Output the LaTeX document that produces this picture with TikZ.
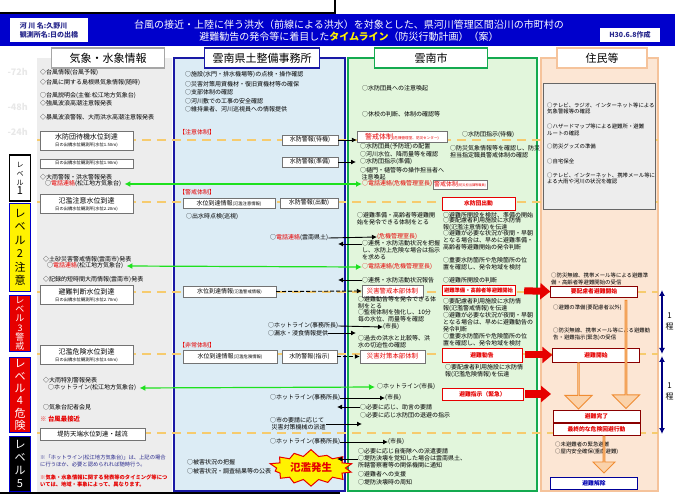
\documentclass[tikz,border=0pt]{standalone}
\usepackage{fontspec}
\setmainfont{Noto Sans CJK JP}
\usetikzlibrary{arrows.meta,shapes.arrows,shapes.symbols}

\definecolor{bannerblue}{RGB}{0,0,204}
\definecolor{kishogray}{RGB}{237,237,237}
\definecolor{dobokufill}{RGB}{220,236,245}
\definecolor{dobokuline}{RGB}{25,25,165}
\definecolor{shifill}{RGB}{226,246,220}
\definecolor{shiline}{RGB}{20,170,80}
\definecolor{juminfill}{RGB}{252,230,212}
\definecolor{juminline}{RGB}{245,195,155}
\definecolor{waterdash}{RGB}{246,203,110}
\definecolor{hotgreen}{RGB}{30,225,30}
\definecolor{alertred}{RGB}{230,0,0}
\definecolor{evacline}{RGB}{240,140,50}
\definecolor{evacfill}{RGB}{250,210,170}
\definecolor{notenavy}{RGB}{40,40,140}
\definecolor{faint}{RGB}{232,232,232}

\newcommand{\fsz}[1]{\fontsize{#1}{#1}\selectfont}
\newcommand{\redtel}{\textcolor{alertred}{電話連絡}}

\tikzset{
  note/.style={anchor=west, inner sep=0pt, align=left, font=\fontsize{6}{6.9}\selectfont},
  residentnote/.style={note, font=\fontsize{5.4}{6.5}\selectfont},
  rednote/.style={note, text=alertred},
  infobox/.style={draw=black!55, fill=white, inner sep=0pt, align=center, font=\fontsize{6}{7}\selectfont},
  gaugebox/.style={infobox, minimum width=93pt, minimum height=19pt},
  hqbox/.style={infobox, text=alertred, font=\fontsize{6.4}{7}\selectfont},
  orderbox/.style={infobox, draw=alertred, text=alertred, font=\fontsize{5.8}{7}\selectfont\bfseries},
  actionbox/.style={infobox, draw=alertred!60!black, text=alertred, minimum width=87pt, font=\fontsize{5.8}{7}\selectfont\bfseries},
  header/.style={fill=white, line width=1.5pt, minimum height=20pt, inner sep=0pt, font=\fontsize{11}{11}\selectfont},
  levelbox/.style={draw=blue!80!black, line width=1.8pt, minimum width=21pt, inner sep=0pt, align=center},
  waterline/.style={draw=waterdash, line width=1.8pt, dash pattern=on 9pt off 6pt},
  relay/.style={line width=0.9pt, -{Latex[length=5pt,width=5pt]}},
  relaydash/.style={relay, dash pattern=on 4pt off 2pt},
  hotline/.style={draw=hotgreen, line width=1.2pt, {Latex[length=6pt,width=6pt]}-{Latex[length=6pt,width=6pt]}},
  bigred/.style={draw=alertred, line width=7pt, -{Triangle[length=10pt,width=16pt]}},
  evacarrow/.style={single arrow, draw=evacline, fill=evacfill, line width=0.9pt, inner sep=0pt, rotate=-90, anchor=tail},
  spanarrow/.style={draw=blue!50!black, line width=1.3pt, {Latex[length=6pt,width=6pt]}-{Latex[length=6pt,width=6pt]}}
}

\begin{document}
\begin{tikzpicture}[x=1pt, y=-1pt]
\useasboundingbox (0,0) rectangle (675,494);
\clip (0,0) rectangle (675,494);

% frame edges left over from the page
\draw[line width=1.6pt] (0,13) -- (335,13) -- (335,0);
\draw[line width=2pt] (0,493) -- (340,493);

% title banner
\fill[bannerblue] (0,14) rectangle (675,46);
\node[fill=white, inner sep=0pt, minimum width=78pt, minimum height=24pt, align=left, text=notenavy, font=\fontsize{7}{9}\selectfont\bfseries] (gauge) at (49,30) {河 川 名:久野川\\観測所名:日の出橋};
\node[text=white, align=center, font=\fontsize{10}{11.5}\selectfont] (title) at (349,30.5) {台風の接近・上陸に伴う洪水（前線による洪水）を対象とした、県河川管理区間沿川の市町村の\\避難勧告の発令等に着目した{\color{yellow}\bfseries タイムライン}（防災行動計画）（案）};
\node[fill=white, minimum width=60pt, minimum height=14pt, inner sep=0pt, text=notenavy, font=\fontsize{7}{7}\selectfont\bfseries] (made) at (630,35) {H30.6.8作成};

% columns
\fill[kishogray] (37,58) rectangle (172,492);
\filldraw[fill=dobokufill, draw=dobokuline, line width=1.3pt] (174,58) rectangle (345,491);
\filldraw[fill=shifill, draw=shiline, line width=1.3pt] (348,58) rectangle (537,491);
\filldraw[fill=juminfill, draw=juminline, line width=1.3pt] (541,58) rectangle (658,491);

% water level lines
\foreach \wy in {140,202,292,354,433}
  \draw[waterline] (37,\wy) -- (658,\wy);

% headers
\node[header, draw=black!35, minimum width=113pt] (kisho) at (108,58) {気象・水象情報};
\node[header, draw=dobokuline, minimum width=115pt] (doboku) at (262,58) {雲南県土整備事務所};
\node[header, draw=shiline, minimum width=113pt] (shi) at (431,58) {雲南市};
\node[header, draw=juminline, minimum width=90pt] (jumin) at (602,58) {住民等};

% time guides
\node[anchor=west, text=faint, font=\fontsize{9}{9}\selectfont\bfseries] (h72) at (4,72) {-72h};
\node[anchor=west, text=faint, font=\fontsize{9}{9}\selectfont\bfseries] (h48) at (4,107) {-48h};
\node[anchor=west, text=faint, font=\fontsize{9}{9}\selectfont\bfseries] (h24) at (4,132) {-24h};

% levels
\node[levelbox, draw=black, fill=white, minimum height=46pt, font=\fontsize{7}{9}\selectfont] (lv1) at (20,178) {レ\\ベ\\ル\\{\fsz{11}1}};
\node[levelbox, fill=yellow, minimum height=88pt, font=\fontsize{11}{13.5}\selectfont] (lv2) at (20,247.5) {レ\\ベ\\ル\\2\\注\\意};
\node[levelbox, fill=alertred, text=white, minimum height=56pt, font=\fontsize{9}{9.3}\selectfont] (lv3) at (20,323.5) {レ\\ベ\\ル\\3\\警\\戒};
\node[levelbox, fill=alertred, text=white, minimum height=75pt, font=\fontsize{11}{12.3}\selectfont] (lv4) at (20,395) {レ\\ベ\\ル\\4\\危\\険};
\node[levelbox, fill=black, text=white, minimum height=55pt, font=\fontsize{11}{13}\selectfont] (lv5) at (20,464) {レ\\ベ\\ル\\5};

% weather and water information
\node[note] (typhoon) at (40,72) {◇台風情報(台風予報)};
\node[note] (prefinfo) at (40,82) {◇台風に関する島根県気象情報(随時)};
\node[note] (briefing) at (40,96) {○台風説明会(主催:松江地方気象台)};
\node[note] (galeadv) at (40,103) {◇強風波浪高潮注意報発表};
\node[note] (stormwarn) at (40,117) {◇暴風波浪警報、大雨洪水高潮注意報発表};
\node[gaugebox] (standby) at (86.5,140.5) {{\fsz{7}水防団待機水位到達}\\{\fsz{4.3}日の出橋水位観測所(水位1.50m)}};
\node[infobox, minimum width=93pt, minimum height=9pt] (gauge190) at (86.5,163.5) {\fsz{4.3}日の出橋水位観測所(水位1.90m)};
\node[note] (heavyrain) at (40,177) {◇大雨警報・洪水警報発表};
\node[note] (ktel1) at (45,184) {○\redtel(松江地方気象台)};
\node[gaugebox] (caution) at (86.5,204) {{\fsz{7}氾濫注意水位到達}\\{\fsz{4.3}日の出橋水位観測所(水位2.20m)}};
\node[note] (landslide) at (43,259) {◇土砂災害警戒情報(雲南市)発表};
\node[note] (ktel2) at (47,266) {○\redtel(松江地方気象台)};
\node[note] (record) at (43,279) {◇記録的短時間大雨情報(雲南市)発表};
\node[gaugebox] (judge) at (86.5,295) {{\fsz{7}避難判断水位到達}\\{\fsz{4.3}日の出橋水位観測所(水位2.70m)}};
\node[gaugebox] (danger) at (86.5,355) {{\fsz{7}氾濫危険水位到達}\\{\fsz{4.3}日の出橋水位観測所(水位3.60m)}};
\node[note] (special) at (43,380) {◇大雨特別警報発表};
\node[note] (khot) at (48,388) {○ホットライン(松江地方気象台)};
\node[note] (press) at (43,407) {○気象台記者会見};
\node[rednote, font=\fontsize{6.4}{7}\selectfont\bfseries] (closest) at (40,419) {※ 台風最接近};
\node[infobox, minimum width=105pt, minimum height=12pt, font=\fontsize{6.4}{7}\selectfont] (overtop) at (92.5,434) {堤防天端水位到達・越流};
\node[note, text=notenavy, font=\fontsize{5.3}{7}\selectfont] (hotnote) at (40,460.5) {※「ホットライン(松江地方気象台)」は、上記の場合\\に行うほか、必要と認められれば随時行う。};
\node[rednote, font=\fontsize{5.3}{7}\selectfont\bfseries] (timenote) at (40,480.5) {※気象・水象情報に関する発表等のタイミング等につ\\いては、地域・事象によって、異なります。};

% prefectural office
\node[note] (facility) at (185,75) {○施設(水門・排水機場等)の点検・操作確認};
\node[note] (material) at (185,84) {○災害対策用資機材・復旧資機材等の確保};
\node[note] (branch) at (185,92) {○支部体制の確認};
\node[note] (works) at (185,101) {○河川敷での工事の安全確認};
\node[note] (patrol) at (185,109) {○維持業者、河川巡視員への情報提供};
\node[rednote] (attn) at (179,132) {【注意体制】};
\node[infobox, minimum width=56pt, minimum height=10pt] (flwait) at (310,140) {水防警報(待機)};
\node[infobox, minimum width=56pt, minimum height=10pt] (flprep) at (310,162) {水防警報(準備)};
\node[rednote] (alert) at (179,192) {【警戒体制】};
\node[infobox, minimum width=92pt, minimum height=10pt] (rcaution) at (229,203) {水位到達情報{\fsz{4.3}(氾濫注意情報)}};
\node[infobox, minimum width=58pt, minimum height=10pt] (flgo) at (309,203) {水防警報(出動)};
\node[note] (inspect) at (186,217) {○出水時点検(巡視)};
\node[note] (dtel) at (270,238) {○\redtel(雲南県土)};
\node[infobox, minimum width=93pt, minimum height=11pt] (rwarning) at (229.5,291.5) {水位到達情報{\fsz{4.3}(氾濫警戒情報)}};
\node[note] (dhot1) at (268,326) {○ホットライン(事務所長)};
\node[note] (leak) at (268,333) {○漏水・浸食情報提供};
\node[rednote] (emerg) at (179,345) {【非常体制】};
\node[infobox, minimum width=94pt, minimum height=13pt] (rdanger) at (230,356.5) {水位到達情報{\fsz{4.3}(氾濫危険情報)}};
\node[infobox, minimum width=55pt, minimum height=13pt] (florder) at (309.5,356.5) {水防警報(指示)};
\node[note] (dhot2) at (270,398) {○ホットライン(事務所長)};
\node[note] (machine) at (270,424) {○市の要請に応じて\\\ 災害対策機械の派遣};
\node[note] (dhot3) at (270,442) {○ホットライン(事務所長)};
\node[note] (damage) at (187,462) {○被害状況の把握};
\node[note] (publish) at (187,471) {○被害状況・調査結果等の公表};
\node[starburst, starburst points=14, starburst point height=8pt, random starburst=37, fill=yellow, draw=alertred, line width=1pt, minimum width=72pt, minimum height=34pt, text=alertred, font=\fontsize{10.5}{11}\selectfont\bfseries] (flood) at (311,468) {氾濫発生};

% city, left side
\node[note] (members) at (362,88) {○水防団員への注意喚起};
\node[note] (school) at (362,114) {○休校の判断、体制の確認等};
\node[infobox, minimum width=90pt, minimum height=11pt, text=alertred, font=\fontsize{7}{7}\selectfont] (cwarn1) at (402,136.5) {警戒体制{\fsz{3.6}(危機管理室、防災センター)}};
\node[note] (teamwait) at (462,135) {○水防団指示(待機)};
\node[note] (prevent) at (360,147) {○水防団員(予防班)の配置};
\node[note] (check) at (360,154) {○河川水位、降雨量等を確認};
\node[note] (teamprep) at (360,162) {○水防団指示(準備)};
\node[note] (sluice) at (360,173.5) {○樋門・樋管等の操作担当者へ\\\ 注意喚起};
\node[rednote] (stel1) at (362,184) {○電話連絡(危機管理室長)};
\node[infobox, minimum width=54pt, minimum height=9pt, text=alertred, font=\fontsize{6}{7}\selectfont] (cwarn2) at (460,184.5) {警戒体制{\fsz{3.2}(防災担当課等職員)}};
\node[note] (staff) at (450,151.5) {○防災気象情報等を確認し、防災\\担当指定職員警戒体制の確認};
\node[orderbox, minimum width=73pt, minimum height=13pt] (teamgo) at (478.5,203.5) {水防団出動};
\node[note] (readyorder) at (357,218.5) {○避難準備・高齢者等避難開\\始を発令できる体制をとる};
\node[rednote] (crisis) at (377,237) {(危機管理室長)};
\node[note] (askorder) at (362,250) {○連携・水防活動状況を把握\\し、水防上危険な場合は指示\\を求める};
\node[rednote] (stel2) at (362,267) {○電話連絡(危機管理室長)};
\node[note] (report) at (362,280) {○連携・水防活動状況報告};
\node[hqbox, minimum width=61pt, minimum height=12pt] (hqwarn) at (392.5,291) {災害警戒本部体制};
\node[note] (advorder) at (358,302.5) {○避難勧告等を発令できる体\\制をとる};
\node[note] (watch) at (358,316) {○監視体制を強化し、10分\\毎の水位、雨量等を確認};
\node[note] (mayor1) at (383,327) {(市長)};
\node[note] (past) at (358,341.5) {○過去の洪水と比較等、洪\\水の切迫性の確認};
\node[hqbox, minimum width=65pt, minimum height=13pt] (hqdisaster) at (392.5,356.5) {災害対策本部体制};
\node[note] (shot) at (377,387) {○ホットライン(市長)};
\node[note] (mayor2) at (385,398) {(市長)};
\node[note] (advice) at (360,407) {○必要に応じ、助言の要請};
\node[note] (retreat) at (360,415) {○必要に応じ水防団の退避の指示};
\node[note] (mayor3) at (388,442) {(市長)};
\node[note] (sdf) at (358,451) {○必要に応じ自衛隊への派遣要請};
\node[note] (breach) at (358,461.5) {○堤防決壊を覚知した場合は雲南県土、\\所轄警察署等の関係機関に通知};
\node[note] (support) at (358,474) {○避難者への支援};
\node[note] (notice) at (358,482) {○堤防決壊時の周知};

% city, right side
\node[note] (shelter) at (443,215) {○避難所開設を検討、準備の開始};
\node[note] (care1) at (443,224) {○要配慮者利用施設に水防情\\報(氾濫注意情報)を伝達};
\node[note] (night1) at (443,240) {○避難が必要な状況が夜間・早朝\\となる場合は、早めに避難準備・\\高齢者等避難開始の発令判断};
\node[note] (area1) at (443,263.5) {○重要水防箇所や危険箇所の位\\置を確認し、発令地域を検討};
\node[note] (open) at (443,280) {○避難所開設の判断};
\node[orderbox, minimum width=73pt, minimum height=10pt, font=\fontsize{5.3}{6}\selectfont\bfseries] (ordready) at (478.5,290.5) {避難準備・高齢者等避難開始};
\node[note] (care2) at (443,305) {○要配慮者利用施設に水防情\\報(氾濫警戒情報)を伝達};
\node[note] (night2) at (443,322.5) {○避難が必要な状況が夜間・早朝\\となる場合は、早めに避難勧告の\\発令判断};
\node[note] (area2) at (443,340) {○重要水防箇所や危険箇所の位\\置を確認し、発令地域を検討};
\node[orderbox, minimum width=80pt, minimum height=14pt] (ordadvise) at (482,355) {避難勧告};
\node[note] (care3) at (445,371.5) {○要配慮者利用施設に水防情\\報(氾濫危険情報)を伝達};
\node[orderbox, minimum width=81pt, minimum height=12pt] (ordurgent) at (482.5,394) {避難指示（緊急）};

% residents
\node[draw=black!60, fill=kishogray, line width=0.8pt, minimum width=112pt, minimum height=126pt] (prepare) at (599,146) {};
\node[residentnote] (tv1) at (547,108.5) {○テレビ、ラジオ、インターネット等による\\気象警報等の確認};
\node[residentnote] (hazard) at (547,130) {○ハザードマップ等による避難所・避難\\ルートの確認};
\node[residentnote] (goods) at (547,146) {○防災グッズの準備};
\node[residentnote] (home) at (547,161) {○自宅保全};
\node[residentnote] (tv2) at (547,178.5) {○テレビ、インターネット、携帯メール等に\\よる大雨や河川の状況を確認};
\node[residentnote] (recv1) at (551,279) {○防災無線、携帯メール等による避難準\\備・高齢者等避難開始の受信};
\node[actionbox, minimum height=11pt] (careeva) at (594,291.5) {要配慮者避難開始};
\node[residentnote] (getready) at (553,308) {○避難の準備(要配慮者以外)};
\node[residentnote] (recv2) at (553,334) {○防災無線、携帯メール等による避難勧\\告・避難指示(緊急)の受信};
\node[actionbox, minimum height=14pt] (evastart) at (596,355) {避難開始};
\node[actionbox, minimum height=12pt] (evadone) at (596.5,416) {避難完了};
\node[actionbox, minimum height=12pt] (lastact) at (596.5,429) {最終的な危険回避行動};
\node[residentnote] (unevac) at (555,444) {○未避難者の緊急避難};
\node[residentnote] (vertical) at (555,452) {○屋内安全確保(垂直避難)};
\node[actionbox, draw=blue!60!black, text=blue!70!black, minimum height=12pt] (release) at (594,483) {避難解除};
\node[evacarrow, minimum height=108pt, minimum width=27pt, single arrow head extend=7pt] (flow1) at (626,300) {};
\node[evacarrow, minimum height=46pt, minimum width=27pt, single arrow head extend=8pt] (flow2) at (578.5,362.5) {};
\node[evacarrow, minimum height=37pt, minimum width=22pt, single arrow head extend=5pt] (flow3) at (604,435.5) {};

% duration marks on the right
\coordinate (span1top) at (662,290);
\coordinate (span1bot) at (662,354);
\coordinate (span2top) at (662,356);
\coordinate (span2bot) at (662,434);
\draw[spanarrow] (span1top) -- (span1bot);
\draw[spanarrow] (span2top) -- (span2bot);
\node[anchor=west, align=center, inner sep=0pt, font=\fontsize{8}{11}\selectfont] (span1) at (665.5,321) {1\\程};
\node[anchor=west, align=center, inner sep=0pt, font=\fontsize{8}{11}\selectfont] (span2) at (665.5,391) {1\\程};

% free ends
\coordinate (back1) at (338,244);
\coordinate (back2) at (338,280);
\coordinate (ahead1) at (356,333);
\coordinate (back3) at (337,407);
\coordinate (ahead2) at (362,424);
\coordinate (back4) at (337,459);
\coordinate (urgentend) at (551,394);

% office to city
\draw[relay] (flwait.east) -- (flwait.east -| cwarn1.west);
\draw[relay] (flprep.east) -- ([xshift=-4pt]flprep.east -| teamprep.west);
\draw[relay] (dtel.east) -- (crisis.west);
\draw[relay] (askorder.west |- back1) -- (back1);
\draw[relay] (report.west) -- (back2);
\draw[relaydash] (rwarning.east) -- (hqwarn.west);
\draw[relay] (dhot1.east) -- (mayor1.west);
\draw[relay] (leak.east) -- (ahead1);
\draw[relaydash] (florder.east) -- (hqdisaster.west);
\draw[relay] (dhot2.east) -- (mayor2.west);
\draw[relay] (advice.west) -- (back3);
\draw[relay] (machine.east) -- (ahead2);
\draw[relay] (dhot3.east) -- (mayor3.west);
\draw[relay] (breach.west |- back4) -- (back4);

% hot lines
\draw[hotline, shorten <=3pt] (ktel1.east) -- (stel1.west);
\draw[hotline, shorten <=3pt] (ktel2.east) -- (stel2.west);
\draw[hotline, shorten <=3pt, shorten >=2pt] (khot.east) -- (shot.west);

% orders to residents
\draw[bigred, shorten <=9pt] (ordready.east) -- (careeva.west);
\draw[bigred, shorten <=3pt] (ordadvise.east) -- (evastart.west);
\draw[bigred, shorten <=2pt] (ordurgent.east) -- (urgentend);
\end{tikzpicture}
\end{document}
